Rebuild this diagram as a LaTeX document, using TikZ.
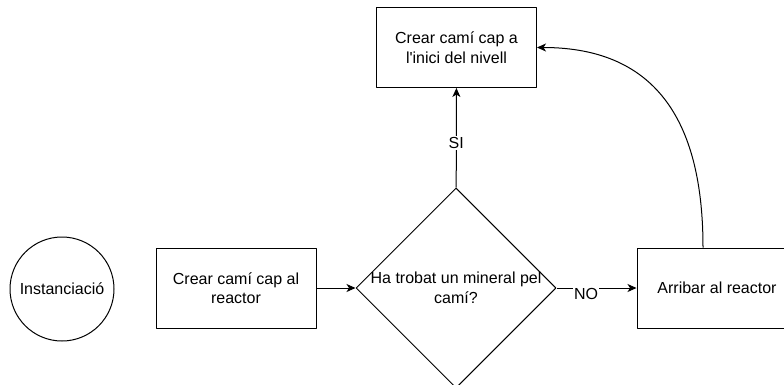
\documentclass[tikz,border=0pt]{standalone}
\usepackage{fontspec}
\setmainfont{Liberation Sans}
\usetikzlibrary{shapes.geometric,arrows.meta}
\begin{document}
\begin{tikzpicture}[x=1pt,y=1pt,line width=1pt,line join=round,
	font=\fontsize{16}{19.5}\selectfont,>={Stealth[length=9pt,width=8pt,inset=2.5pt]},
	proc/.style={draw,minimum width=160pt,minimum height=80pt,align=center,inner sep=0pt},
	decis/.style={draw,diamond,minimum width=200pt,minimum height=200pt,inner sep=0pt},
	lbl/.style={fill=white,inner sep=1pt}]
	\useasboundingbox (0,0) rectangle (784,384);
	\clip (0,0) rectangle (784,384);
	\node[draw,circle,minimum size=104pt,inner sep=0pt] (inst) at (62,95) {Instanciació};
	\node[proc] (cami) at (236,96) {Crear camí cap al\\reactor};
	\node[decis,label={[align=center]center:Ha trobat un mineral pel\\camí?}] (mineral) at (456,96) {};
	\node[proc] (ini) at (456.5,336.5) {Crear camí cap a\\l\textquotesingle inici del nivell};
	\node[proc] (arr) at (717,96) {Arribar al reactor};
	\coordinate (arrtop) at ([xshift=-14pt]arr.north);
	\draw[->] (cami) -- (mineral);
	\draw[->] (mineral) -- node[lbl,pos=0.45]{SI} (ini);
	\draw[->] (mineral) -- node[lbl,pos=0.37,yshift=-6pt]{NO} (arr);
	\draw[->] (arrtop) to[out=90,in=0,looseness=1.2] (ini.east);
\end{tikzpicture}
\end{document}
